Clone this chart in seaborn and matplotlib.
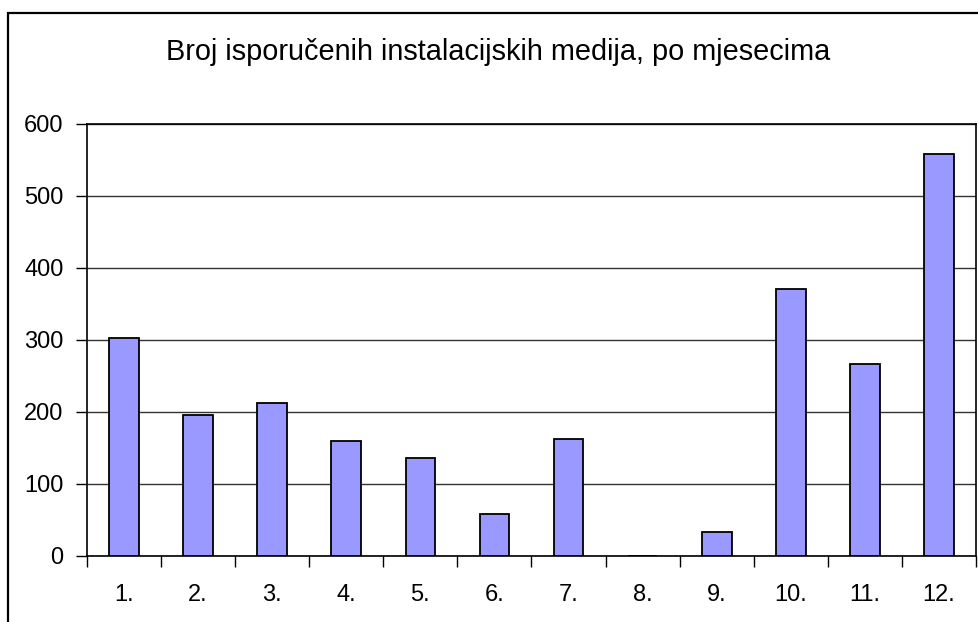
import matplotlib
matplotlib.use("Agg")
import matplotlib.pyplot as plt
from matplotlib.patches import Rectangle
import seaborn as sns
import pandas as pd

months = ["1.", "2.", "3.", "4.", "5.", "6.", "7.", "8.", "9.", "10.", "11.", "12."]
deliveries = [303, 196, 213, 160, 136, 58, 163, 0, 33, 371, 267, 559]
title = "Broj isporučenih instalacijskih medija, po mjesecima"

sns.set_theme(style="white")
plt.rcParams['font.family'] = ['Liberation Sans', 'DejaVu Sans']

df = pd.DataFrame({'month': months, 'count': deliveries})

fig = plt.figure(figsize=(9.79, 6.22), dpi=100)
ax = fig.add_axes([87 / 979, 1 - 556 / 622, (976 - 87) / 979, (556 - 124) / 622])

sns.barplot(data=df, x='month', y='count', color='#9999FF', saturation=1,
            edgecolor='black', linewidth=1.3, width=0.4, ax=ax, zorder=3)

ax.set_xlim(-0.5, len(months) - 0.5)
ax.set_ylim(0, 600)
ax.set_yticks(range(0, 601, 100))
ax.yaxis.grid(True, color='#333333', linewidth=1, zorder=0)
ax.set_axisbelow(True)

# category ticks between bars, labels centered (Excel style)
ax.set_xticks([i - 0.5 for i in range(len(months) + 1)])
ax.set_xticklabels([])
ax.set_xticks(range(len(months)), minor=True)
ax.set_xticklabels(months, minor=True)
ax.tick_params(axis='x', which='major', bottom=True, length=8, width=1,
               color='black', direction='out')
ax.tick_params(axis='x', which='minor', bottom=True, length=0, pad=20,
               labelsize=17, labelcolor='black')
ax.tick_params(axis='y', left=True, length=8, width=1, color='black', direction='out',
               labelsize=17, labelcolor='black', pad=9)
ax.set_xlabel('')
ax.set_ylabel('')

for s in ax.spines.values():
    s.set_color('black')
    s.set_linewidth(1.2)
    s.set_visible(True)

fig.text(0.509, 1 - 52 / 622, title, ha='center', va='center', fontsize=20.8, color='black')

# chart area border
fig.patches.append(Rectangle((8 / 979, -0.1), 1.2, 1 - 12.5 / 622 + 0.1,
                             transform=fig.transFigure, fill=False,
                             edgecolor='black', linewidth=1.6))

fig.savefig('out.png', dpi=100)
